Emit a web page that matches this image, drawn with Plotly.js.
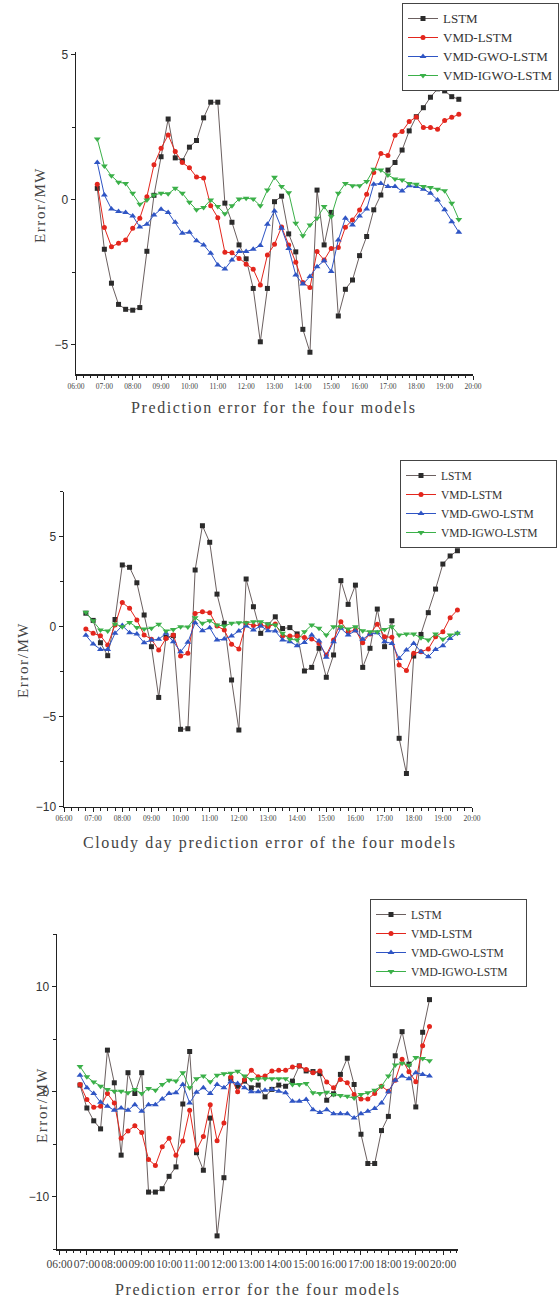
<!DOCTYPE html>
<html><head><meta charset="utf-8">
<script src="https://cdn.plot.ly/plotly-3.0.1.min.js"></script>
<style>
html,body{margin:0;padding:0;background:#fff}
#chart{width:559px;height:1297px}
text.legendtext{font-size:13px !important;}
text.annotation-text{letter-spacing:1.6px;}
text.annotation-text.ytitle{letter-spacing:1.2px;}
</style>
</head><body><div id="chart"></div>
<script>
// ---- data ----
const times = ["06:45","07:00","07:15","07:30","07:45","08:00","08:15","08:30","08:45","09:00","09:15","09:30","09:45",
"10:00","10:15","10:30","10:45","11:00","11:15","11:30","11:45","12:00","12:15","12:30","12:45","13:00","13:15","13:30","13:45",
"14:00","14:15","14:30","14:45","15:00","15:15","15:30","15:45","16:00","16:15","16:30","16:45","17:00","17:15","17:30","17:45",
"18:00","18:15","18:30","18:45","19:00","19:15","19:30"];
const tickLabels = ["06:00","07:00","08:00","09:00","10:00","11:00","12:00","13:00","14:00","15:00","16:00","17:00","18:00","19:00","20:00"];
const seriesNames = ["LSTM","VMD-LSTM","VMD-GWO-LSTM","VMD-IGWO-LSTM"];

// Panel 1 : Prediction error for the four models
const p1_lstm = [0.40,-1.70,-2.87,-3.60,-3.77,-3.80,-3.71,-1.77,0.16,1.49,2.79,1.45,1.35,1.82,2.05,2.83,3.37,3.37,-0.11,-0.77,-1.55,-2.03,-3.05,-4.89,-3.05,-0.06,0.13,-1.17,-1.79,-4.46,
 -5.25,0.34,-1.55,-0.43,-4.00,-3.08,-2.76,-1.92,-1.26,-0.34,0.17,1.03,1.29,1.72,2.38,2.87,3.18,3.54,3.83,3.76,3.56,3.47];
const p1_vmd = [0.54,-0.95,-1.61,-1.49,-1.38,-0.98,-0.63,0.11,1.21,1.78,2.24,1.67,1.29,1.11,0.79,0.76,-0.20,-0.61,-1.80,-1.82,-2.02,-2.22,-2.39,-2.93,-1.90,-1.53,-0.93,-1.55,-2.15,-2.85,
 -3.02,-1.78,-2.07,-1.67,-1.64,-0.94,-0.69,-0.35,0.20,0.95,1.60,1.53,2.23,2.36,2.70,2.86,2.50,2.50,2.44,2.74,2.85,2.95];
const p1_gwo = [1.29,0.17,-0.31,-0.40,-0.43,-0.55,-0.93,-0.84,-0.52,-0.32,-0.43,-0.77,-1.15,-1.11,-1.41,-1.55,-1.84,-2.24,-2.38,-2.07,-1.78,-1.78,-1.70,-1.57,-0.84,-0.38,-0.98,-1.67,-2.59,-2.90,
 -2.64,-2.30,-2.10,-2.47,-1.38,-0.63,-0.86,-0.55,-0.31,0.54,0.57,0.46,0.46,0.31,0.49,0.46,0.37,0.23,0.00,-0.34,-0.75,-1.11];
const p1_igwo = [2.10,1.17,0.83,0.61,0.57,0.23,-0.15,0.00,0.17,0.23,0.21,0.40,0.23,-0.08,-0.34,-0.26,0.00,-0.23,-0.48,-0.20,0.03,0.06,0.03,-0.20,0.34,0.78,0.46,0.25,-0.80,-1.23,
 -0.86,-0.63,-0.23,-0.57,0.23,0.57,0.49,0.49,0.64,1.06,1.03,0.86,0.72,0.69,0.57,0.54,0.46,0.43,0.37,0.32,-0.11,-0.67];

// Panel 2 : Cloudy day prediction error of the four models
const p2_lstm = [0.75,0.35,-0.89,-1.61,0.40,3.43,3.30,2.44,0.65,-1.11,-3.93,-0.60,-0.50,-5.70,-5.67,3.15,5.61,4.69,1.81,0.19,-2.96,-5.74,2.65,1.11,-0.37,0.10,0.55,-0.10,-0.05,-0.40,
 -2.46,-2.26,-1.20,-2.81,-1.57,2.56,1.24,2.31,-2.26,-1.20,0.98,-1.11,0.33,-6.20,-8.15,-1.63,-0.43,0.78,2.09,3.48,3.93,4.22];
const p2_vmd = [-0.13,-0.37,-0.50,-1.02,0.10,1.35,1.02,0.37,-0.46,-0.70,-1.30,-0.65,-0.46,-1.63,-1.48,0.74,0.83,0.78,0.04,-0.19,-0.98,-1.24,0.19,0.06,0.09,0.00,0.15,-0.52,-0.52,-0.52,
 -0.60,-0.69,-0.93,-1.57,-0.74,0.28,-0.28,-0.19,-0.89,-0.41,0.13,-0.56,-0.59,-2.13,-2.44,-1.48,-1.39,-1.24,-0.56,-0.28,0.50,0.93];
const p2_gwo = [-0.48,-0.96,-1.26,-1.26,-0.37,0.06,-0.33,-0.41,-0.89,-0.74,-0.70,-0.37,-0.83,-1.39,-0.87,0.22,-0.22,-0.06,-0.74,-0.69,-0.52,-0.24,0.04,-0.19,0.04,-0.22,-0.24,-0.74,-0.83,-1.06,
 -0.88,-0.46,-0.80,-1.70,-0.83,-0.09,-0.46,-0.22,-0.70,-0.41,-0.33,-0.83,-0.93,-1.76,-1.30,-0.93,-1.39,-1.67,-1.26,-1.06,-0.65,-0.37];
const p2_igwo = [0.80,0.33,-0.19,-0.24,0.15,0.00,0.24,-0.04,-0.13,-0.09,0.13,-0.24,-0.15,0.00,-0.02,0.50,0.19,0.33,0.09,0.04,0.19,0.22,0.22,0.28,0.28,0.15,0.09,-0.37,-0.70,-0.74,
 -0.28,0.09,-0.09,-0.46,0.00,0.00,-0.13,0.00,-0.22,-0.28,-0.28,-0.15,0.00,-0.46,-0.41,-0.41,-0.61,-0.74,-0.41,-0.70,-0.46,-0.37];

// Panel 3 : Prediction error for the four models
const p3_lstm = [0.61,-1.57,-2.79,-3.56,3.94,0.83,-6.06,1.79,-0.19,1.79,-9.58,-9.58,-9.26,-8.08,-7.18,-1.19,3.81,-5.83,-7.50,-2.53,-13.75,-8.21,1.22,0.50,0.99,0.35,0.61,-0.51,0.20,0.61,
 0.50,0.99,2.44,1.96,1.90,1.70,-0.83,-0.22,1.63,3.17,0.67,-4.07,-6.86,-6.86,-3.72,-2.37,3.40,5.70,2.60,-1.47,5.64,8.75];
const p3_vmd = [0.67,-0.77,-1.51,-1.41,-0.19,-1.09,-4.46,-3.75,-3.27,-3.91,-6.47,-7.05,-5.26,-4.46,-6.06,-4.71,-1.79,-5.58,-4.29,-1.25,-4.68,-3.01,1.38,-0.03,1.15,2.02,1.41,1.47,1.96,2.02,
 2.02,2.34,2.44,2.10,1.79,1.96,0.90,0.35,1.15,0.83,-0.29,-0.71,-0.71,-0.19,0.51,0.03,1.06,3.08,1.89,0.93,4.36,6.19];
const p3_gwo = [1.54,0.35,-0.19,-1.03,-1.41,-1.79,-1.57,-1.79,-1.25,-1.89,-1.25,-1.25,-0.71,-0.19,-0.13,0.67,-1.09,-0.06,0.35,-0.19,0.67,0.35,0.93,0.77,0.35,-0.03,-0.03,0.13,0.19,0.03,
 -0.13,-0.93,-0.93,-0.77,-1.73,-1.99,-1.73,-2.12,-2.12,-2.12,-2.53,-2.12,-1.89,-1.63,-1.09,-0.03,1.06,1.47,1.22,1.79,1.63,1.47];
const p3_igwo = [2.37,1.41,0.90,0.51,0.19,0.03,0.03,-0.13,0.19,-0.19,0.29,0.13,0.67,1.06,0.99,1.79,0.35,1.22,1.47,0.93,1.54,1.70,1.73,1.92,1.47,1.15,1.22,1.22,1.22,1.22,
 1.22,0.67,0.67,0.77,-0.13,-0.19,-0.06,-0.29,-0.38,-0.45,-0.61,-0.29,-0.13,0.13,0.51,1.47,2.53,2.69,2.50,3.24,3.14,2.92];

const panelTitles = ["Prediction error for the four models","Cloudy day prediction error of the four models","Prediction error for the four models"];
const yTitle = "Error/MW";

// ---- build ----
const W = 559, H = 1297;
const toHours = s => { const [h,m] = s.split(":").map(Number); return h + m/60; };
const xs = times.map(toHours);
const tickVals = tickLabels.map(toHours);
const px = v => v / W, py = v => 1 - v / H;

const colors = ["#2b2b2b","#e3261d","#2f55c4","#3bb049"];
const lineColors = ["#6b6060","#e3261d","#2f55c4","#3bb049"];
const symbols = ["square","circle","triangle-up","triangle-down"];
const msizes = [5,5,6,6];
const panels = [
  [p1_lstm,p1_vmd,p1_gwo,p1_igwo],
  [p2_lstm,p2_vmd,p2_gwo,p2_igwo],
  [p3_lstm,p3_vmd,p3_gwo,p3_igwo]
];
const traces = [];
panels.forEach((series, p) => {
  series.forEach((ys, k) => {
    traces.push({
      x: xs, y: ys, type: "scatter", mode: "lines+markers",
      name: seriesNames[k],
      xaxis: p === 0 ? "x" : "x" + (p + 1),
      yaxis: p === 0 ? "y" : "y" + (p + 1),
      legend: p === 0 ? "legend" : "legend" + (p + 1),
      line: {color: lineColors[k], width: 1},
      marker: {color: colors[k], symbol: symbols[k], size: msizes[k]},
      showlegend: true
    });
  });
});

const axFont = {family: "Liberation Sans, Arial, sans-serif", size: 12, color: "#333"};
function xAxis(dom, range, anchor, fontSize) {
  return {
    domain: dom, range: range, anchor: anchor,
    tickmode: "array", tickvals: tickVals, ticktext: tickLabels, tickangle: 0,
    ticks: "outside", ticklen: 4, tickwidth: 1, tickcolor: "#222",
    minor: {tickmode: "linear", tick0: 6, dtick: 0.25, ticks: "outside", ticklen: 2.5, tickwidth: 1, tickcolor: "#222"},
    showline: true, linecolor: "#222", linewidth: 1.5, showgrid: false, zeroline: false,
    tickfont: {family: "Liberation Serif, Times New Roman, serif", size: fontSize, color: "#444"}
  };
}
function yAxis(dom, range, anchor, dtick, minorDtick) {
  return {
    domain: dom, range: range, anchor: anchor,
    tickmode: "linear", tick0: 0, dtick: dtick,
    ticks: "outside", ticklen: 4, tickwidth: 1, tickcolor: "#222",
    minor: {tickmode: "linear", tick0: 0, dtick: minorDtick, ticks: "outside", ticklen: 2.5, tickwidth: 1, tickcolor: "#222"},
    showline: true, linecolor: "#222", linewidth: 1.5, showgrid: false, zeroline: false,
    tickfont: axFont
  };
}
const legFont = {family: "Liberation Serif, Times New Roman, serif", size: 11.5, color: "#333"};
function legend(xl, yt) {
  return {x: px(xl), y: py(yt), xanchor: "left", yanchor: "top", xref: "paper", yref: "paper",
    bgcolor: "#fff", bordercolor: "#444", borderwidth: 1, font: legFont, itemwidth: 30,
    tracegroupgap: 0};
}
const titleFont = {family: "Liberation Serif, Times New Roman, serif", size: 16, color: "#444"};
const yTitleFont = {family: "Liberation Serif, Times New Roman, serif", size: 15, color: "#444"};
function ann(text, x, y, angle, font) {
  return {text: text, x: px(x), y: py(y), xref: "paper", yref: "paper", showarrow: false,
    xanchor: "center", yanchor: "middle", textangle: angle || 0, font: font || titleFont};
}

const layout = {
  width: W, height: H, margin: {l: 0, r: 0, t: 0, b: 0},
  paper_bgcolor: "#fff", plot_bgcolor: "rgba(0,0,0,0)",
  xaxis: xAxis([px(76), px(473)], [6, 20], "y", 7.5),
  yaxis: yAxis([py(374), py(52)], [-6, 5.1], "x", 5, 2.5),
  xaxis2: xAxis([px(64), px(472)], [6, 20], "y2", 7.5),
  yaxis2: yAxis([py(806.7), py(491.7)], [-10, 7.5], "x2", 5, 2.5),
  xaxis3: xAxis([px(57), px(458)], [5.91, 20.54], "y3", 11.5),
  yaxis3: yAxis([py(1249), py(934)], [-15, 15], "x3", 10, 5),
  legend: legend(402, 3),
  legend2: legend(400, 460),
  legend3: legend(370, 899),
  annotations: [
    ann(panelTitles[0], 274, 407),
    ann(panelTitles[1], 270, 843),
    ann(panelTitles[2], 258, 1289),
    ann(yTitle, 40, 205, -90, yTitleFont),
    ann(yTitle, 23, 660, -90, yTitleFont),
    ann(yTitle, 42, 1105, -90, yTitleFont)
  ],
  showlegend: true
};
Plotly.newPlot("chart", traces, layout, {staticPlot: true, displayModeBar: false});
</script>
</body></html>
